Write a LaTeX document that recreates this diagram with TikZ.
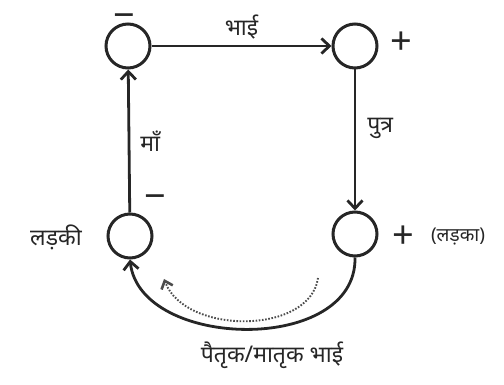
\documentclass[tikz,border=0pt]{standalone}
\usepackage{fontspec}
\setmainfont{Noto Sans}
\newfontfamily\deva[Script=Devanagari]{Noto Sans}
\usetikzlibrary{arrows.meta}
\begin{document}
\begin{tikzpicture}[x=1pt,y=-1pt,
  person/.style={draw=black!85,line width=3pt,circle,minimum size=44pt,inner sep=0pt},
  rel/.style={draw=black!85,line width=2.8pt,-{Straight Barb[length=8pt,width=15pt,line width=2.8pt]}},
  dotrel/.style={draw=black!70,line width=1.9pt,dash pattern=on 1.6pt off 1.6pt,-{Straight Barb[length=7pt,width=12pt,line width=2.6pt]}},
  lbl/.style={font=\deva\fontsize{23}{25}\selectfont,text=black!85,inner sep=1pt},
  sign/.style={font=\fontsize{38}{38}\selectfont\bfseries,text=black!85,inner sep=0pt}]
\useasboundingbox (0,0) rectangle (504,385);
\node[person] (a) at (128,46) {};
\node[person] (b) at (355,46) {};
\node[person] (c) at (355,234) {};
\node[person] (d) at (130,236) {};
\draw[rel] (a) -- node[lbl,above=4pt] (la) {भाई} (b);
\draw[rel] (b) -- node[lbl,right=10pt,pos=0.42] (lb) {पुत्र} (c);
\draw[rel] (d) -- node[lbl,right=9pt,pos=0.5] (ld) {माँ} (a);
\draw[rel] (c.south) .. controls (357,355) and (140,350) .. (d.south);
\coordinate (ds) at (318,278);
\coordinate (de) at (164,279);
\draw[dotrel] (ds) .. controls (310,335) and (185,335) .. (de);
\node[sign,anchor=base] (ma) at (124,29) {−};
\node[sign] (pb) at (401,43) {+};
\node[sign,anchor=base] (md) at (155,210) {−};
\node[sign] (pc) at (403,237) {+};
\node[lbl,font=\deva\fontsize{19}{21}\selectfont] (boy) at (458,237) {(लड़का)};
\node[lbl] (girl) at (56,237) {लड़की};
\node[lbl] (cous) at (272,355) {पैतृक/मातृक भाई};
\end{tikzpicture}
\end{document}
